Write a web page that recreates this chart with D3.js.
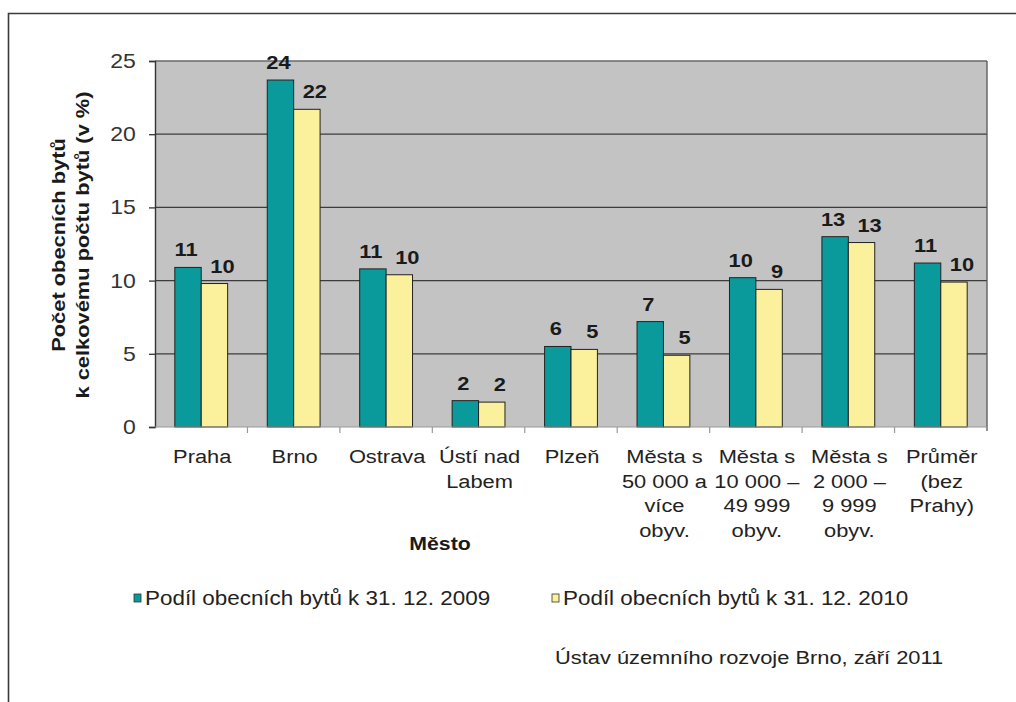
<!DOCTYPE html>
<html>
<head>
<meta charset="utf-8">
<script src="https://cdn.jsdelivr.net/npm/d3@7"></script>
<style>
  html, body { margin: 0; padding: 0; background: #fff; }
  svg { display: block; font-family: "Liberation Sans", Arial, sans-serif; }
</style>
</head>
<body>
<svg id="chart" width="1016" height="702"></svg>
<script>
// Podíl obecních bytů (v %) podle města
const categories = [
  ["Praha"],
  ["Brno"],
  ["Ostrava"],
  ["Ústí nad", "Labem"],
  ["Plzeň"],
  ["Města s", "50 000 a", "více", "obyv."],
  ["Města s", "10 000 –", "49 999", "obyv."],
  ["Města s", "2 000 –", "9 999", "obyv."],
  ["Průměr", "(bez", "Prahy)"]
];
const series = ["Podíl obecních bytů k 31. 12. 2009", "Podíl obecních bytů k 31. 12. 2010"];
const values2009 = [10.9, 23.7, 10.8, 1.8, 5.5, 7.2, 10.2, 13.0, 11.2];
const values2010 = [9.8, 21.7, 10.4, 1.7, 5.3, 4.9, 9.4, 12.6, 9.9];
const yTicks = [0, 5, 10, 15, 20, 25];
const axisTitleY = ["Počet obecních bytů", "k celkovému počtu bytů (v %)"];
const axisTitleX = "Město";
const sourceNote = "Ústav územního rozvoje Brno, září 2011";

const colors = ["#0b9a9b", "#fbf09b"];
const SX = 1.15; // horizontal text stretch
const svg = d3.select("#chart");

// outer frame (top and left edges)
svg.append("path").attr("d", "M8.5,702 V13.5 H1016").attr("fill", "none")
  .attr("stroke", "#3a3a3a").attr("stroke-width", 1.6);

const plot = { left: 155, top: 61, right: 987, bottom: 427 };
const ids = d3.range(categories.length);

const x = d3.scaleBand().domain(ids).range([plot.left, plot.right]).padding(0);
const xSub = d3.scaleBand().domain([0, 1]).range([0, x.bandwidth()])
  .paddingInner(0).paddingOuter(0.75);
const y = d3.scaleLinear().domain([0, 25]).range([plot.bottom, plot.top]);

// helper: stretched text
function stext(g, tx, ty, str, opts = {}) {
  return g.append("text")
    .attr("transform", `translate(${tx},${ty})${opts.rotate ? " rotate(-90)" : ""} scale(${SX},1)`)
    .attr("text-anchor", opts.anchor || "middle")
    .attr("font-size", opts.size || 19)
    .attr("font-weight", opts.weight || "normal")
    .attr("fill", opts.fill || "#222")
    .text(str);
}

// plot background
svg.append("rect").attr("x", plot.left).attr("y", plot.top)
  .attr("width", plot.right - plot.left).attr("height", plot.bottom - plot.top)
  .attr("fill", "#c3c3c3");

// gridlines
svg.append("g").selectAll("line").data(yTicks.filter(d => d > 0)).join("line")
  .attr("x1", plot.left).attr("x2", plot.right)
  .attr("y1", d => y(d)).attr("y2", d => y(d))
  .attr("stroke", d => d === 25 ? "#6a6a6a" : "#3c3c3c").attr("stroke-width", 1.3);

// right border of plot
svg.append("line").attr("x1", plot.right).attr("x2", plot.right)
  .attr("y1", plot.top).attr("y2", plot.bottom + 4)
  .attr("stroke", "#555").attr("stroke-width", 1.3);

// bars
const data = ids.map(i => [values2009[i], values2010[i]]);
const groups = svg.append("g").selectAll("g").data(data).join("g")
  .attr("transform", (d, i) => `translate(${x(i)},0)`);
groups.selectAll("rect").data(d => d).join("rect")
  .attr("x", (d, j) => xSub(j))
  .attr("y", d => y(d))
  .attr("width", xSub.bandwidth())
  .attr("height", d => y(0) - y(d))
  .attr("fill", (d, j) => colors[j])
  .attr("stroke", "#222").attr("stroke-width", 1);

// value labels
const labelOffset = [-2, 8];
groups.each(function (d) {
  const g = d3.select(this);
  d.forEach((v, j) => {
    stext(g, xSub(j) + xSub.bandwidth() / 2 + labelOffset[j], y(v) - 11,
      d3.format(".0f")(v), { size: 19, weight: "bold", fill: "#1a1a1a" });
  });
});

// y axis
const yAxis = svg.append("g").attr("transform", `translate(${plot.left},0)`)
  .call(d3.axisLeft(y).tickValues(yTicks).tickSize(6).tickPadding(12));
yAxis.select(".domain").attr("stroke", "#333").attr("stroke-width", 1.4);
yAxis.selectAll(".tick line").attr("stroke", "#333").attr("stroke-width", 1.3);
yAxis.selectAll(".tick text")
  .attr("font-size", 20).attr("fill", "#333")
  .attr("font-family", "'Liberation Sans', Arial, sans-serif")
  .attr("transform", `translate(-3,0) scale(${SX},1)`)
  .attr("x", -14);

// x axis baseline and boundary ticks
svg.append("line").attr("x1", plot.left).attr("x2", plot.right)
  .attr("y1", plot.bottom).attr("y2", plot.bottom)
  .attr("stroke", "#9a9a9a").attr("stroke-width", 1.2);
svg.append("g").selectAll("line").data(ids.slice(1)).join("line")
  .attr("x1", d => x(d)).attr("x2", d => x(d))
  .attr("y1", plot.bottom).attr("y2", plot.bottom + 6)
  .attr("stroke", "#9a9a9a").attr("stroke-width", 1.2);

// category labels
const catG = svg.append("g");
categories.forEach((lines, i) => {
  lines.forEach((ln, k) => {
    stext(catG, x(i) + x.bandwidth() / 2 + 1, 463 + k * 24.6, ln, { size: 19, fill: "#222" });
  });
});

// axis titles
stext(svg, 440, 550, axisTitleX, { size: 18.5, weight: "bold", fill: "#1a1a1a" });
axisTitleY.forEach((ln, k) => {
  stext(svg, 65 + k * 24, 245, ln, { size: 19, weight: "bold", fill: "#1a1a1a", rotate: true });
});

// legend
const legendX = [134, 552];
series.forEach((s, j) => {
  svg.append("rect").attr("x", legendX[j]).attr("y", 594).attr("width", 7).attr("height", 8)
    .attr("fill", colors[j]).attr("stroke", "#333").attr("stroke-width", 0.8);
  stext(svg, legendX[j] + 11, 605, s, { size: 19.5, anchor: "start", fill: "#222" });
});

// source note
stext(svg, 555, 664, sourceNote, { size: 19, anchor: "start", fill: "#222" });
</script>
</body>
</html>
